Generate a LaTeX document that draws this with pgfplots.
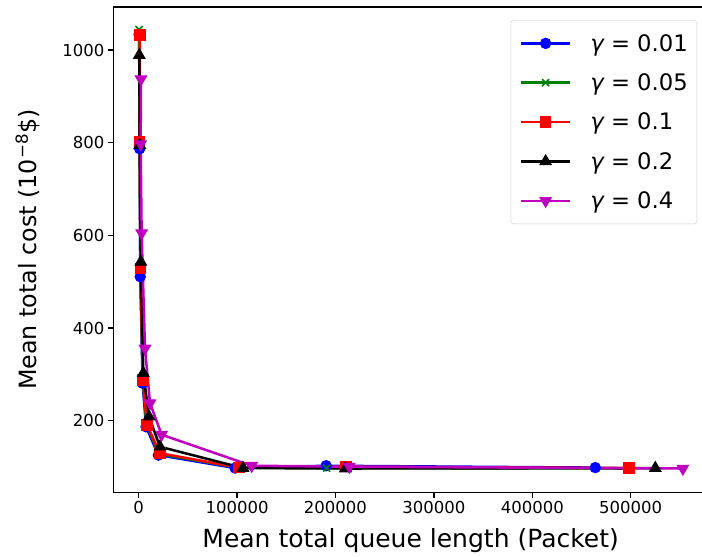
\documentclass[border=0pt]{standalone}
\usepackage{pgfplots}
\pgfplotsset{compat=1.18}
\usepackage{fontspec}
\setmainfont{DejaVu Sans}
\definecolor{mplb}{rgb}{0,0,1}
\definecolor{mplg}{rgb}{0,0.5,0}
\definecolor{mplr}{rgb}{1,0,0}
\definecolor{mplm}{rgb}{0.75,0,0.75}
\begin{document}
\begin{tikzpicture}
\path[use as bounding box] (-113.3pt,-64.7pt) rectangle (588.7pt,492.3pt);
\clip (-113.3pt,-64.7pt) rectangle (588.7pt,492.3pt);
\begin{axis}[
  at={(0pt,0pt)}, anchor=south west,
  scale only axis, width=594.7pt, height=485.3pt,
  xmin=-25800, xmax=578560, ymin=45.7, ymax=1092.8,
  xtick={0,100000,200000,300000,400000,500000},
  ytick={200,400,600,800,1000},
  scaled x ticks=false,
  /pgf/number format/assume math mode=true,
  xticklabel style={/pgf/number format/1000 sep={}, /pgf/number format/fixed},
  yticklabel style={/pgf/number format/1000 sep={}},
  tick label style={font=\fontsize{16.5}{19}\selectfont},
  tick align=outside, major tick length=5.5pt,
  xtick pos=bottom, ytick pos=left,
  axis line style={line width=1.25pt},
  every tick/.style={black, line width=1.25pt},
  every axis x label/.style={at={(axis description cs:0.5,0)}, anchor=base, yshift=-55pt, font=\fontsize{25}{30}\selectfont},
  every axis y label/.style={at={(axis description cs:-0.1283,0.5)}, rotate=90, anchor=base, font=\fontsize{23.8}{28}\selectfont},
  xlabel={Mean total queue length (Packet)},
  ylabel={Mean total cost (10\textsuperscript{−8}\$)},
  legend style={
    at={(axis description cs:0.9815,0.9732)}, anchor=north east,
    draw=black!20, rounded corners=3pt, fill=white,
    font=\fontsize{22.7}{27}\selectfont,
    inner xsep=9pt, inner ysep=14pt,
    row sep=21pt,
    nodes={inner sep=0pt},
    /tikz/every odd column/.append style={column sep=19pt},
  },
  legend cell align=left,
  legend image code/.code={\draw[mark repeat=2,mark phase=2,#1] plot coordinates {(0pt,0pt) (24.5pt,0pt) (49pt,0pt)};},
]
\addplot[mplb, line width=2.5pt, mark=*, mark size=5.2pt, mark options={line width=1pt, fill=mplb}] coordinates {
(500,1034) (1000,787) (1600,511) (4000,281) (7500,187) (20000,126) (98000,98) (190500,103) (464000,99)};
\addplot[mplg, line width=2.5pt, mark=x, mark size=5pt, mark options={line width=1.6pt}] coordinates {
(400,1044) (1000,795) (1700,525) (4200,285) (8000,190) (21000,128) (101000,99) (191000,98) (500000,97)};
\addplot[mplr, line width=2.5pt, mark=square*, mark size=5.3pt, mark options={line width=1pt, fill=mplr}] coordinates {
(1300,1033) (1000,803) (1800,529) (4300,288) (8500,191) (21500,130) (102000,99) (210500,101) (498000,98)};
\addplot[black, line width=2.5pt, mark=triangle*, mark size=6.5pt, mark options={line width=1pt, fill=black}] coordinates {
(600,989) (1100,795) (2200,543) (4700,303) (10500,209) (21600,144) (106000,98) (210000,97) (525000,98)};
\addplot[mplm, line width=2.5pt, mark=triangle*, mark size=6.5pt, mark options={line width=1pt, fill=mplm, rotate=180}] coordinates {
(2300,937) (2000,797) (3000,605) (6400,356) (11500,238) (23300,170) (114800,103) (214000,101) (553000,97)};
\legend{{\itshape γ} = 0.01, {\itshape γ} = 0.05, {\itshape γ} = 0.1, {\itshape γ} = 0.2, {\itshape γ} = 0.4}
\end{axis}
\end{tikzpicture}
\end{document}
